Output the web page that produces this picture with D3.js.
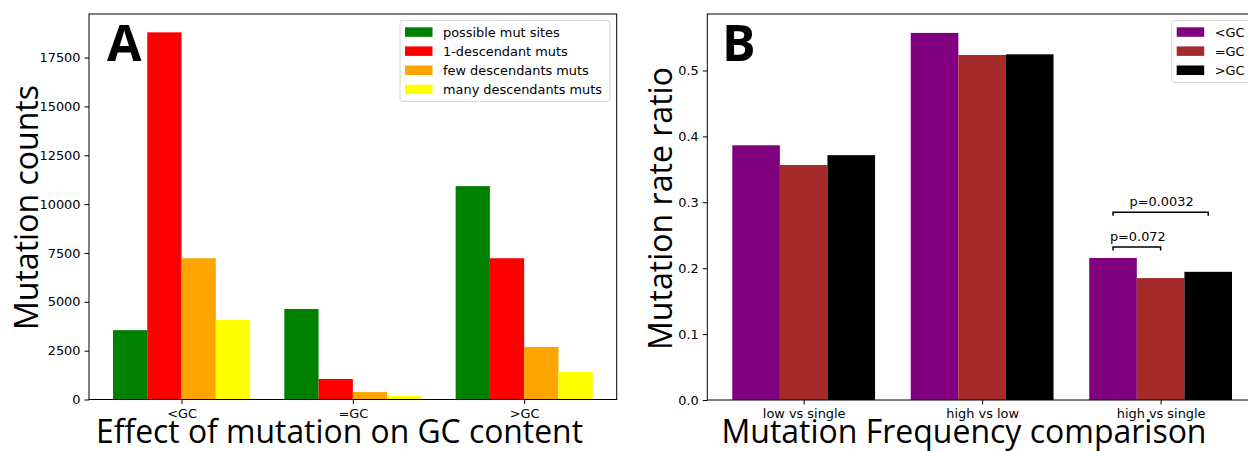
<!DOCTYPE html>
<html>
<head>
<meta charset="utf-8">
<script src="https://cdn.jsdelivr.net/npm/d3@7"></script>
<style>
  body { margin: 0; background: #fff; }
  svg { display: block; }
  .tick text { font-family: "DejaVu Sans", sans-serif; font-size: 12.9px; fill: #000; }
  .tick line, .domain { stroke: #000; }
</style>
</head>
<body>
<svg id="chart"></svg>
<script>
// panel A data
const gcCategories = ["<GC", "=GC", ">GC"];
const mutSeries = ["possible mut sites", "1-descendant muts", "few descendants muts", "many descendants muts"];
const possibleSites = [3550, 4630, 10920];
const oneDescendant = [18790, 1050, 7230];
const fewDescendants = [7230, 385, 2690];
const manyDescendants = [4070, 180, 1410];
const countTicks = [0, 2500, 5000, 7500, 10000, 12500, 15000, 17500];

// panel B data
const freqCategories = ["low vs single", "high vs low", "high vs single"];
const gcSeries = ["<GC", "=GC", ">GC"];
const ratioLess = [0.3865, 0.557, 0.2155];
const ratioEqual = [0.3565, 0.5235, 0.185];
const ratioMore = [0.3715, 0.5245, 0.1945];
const ratioTicks = [0, 0.1, 0.2, 0.3, 0.4, 0.5];

// significance brackets (category 2, from bar i to bar j)
const pLabels = ["p=0.072", "p=0.0032"];
const pFrom = [0, 0];
const pTo = [1, 2];
const pLevel = [0.232, 0.285];

const W = 1248, H = 451;
const svg = d3.select("#chart").attr("width", W).attr("height", H);

function panel(opts) {
  const g = svg.append("g");
  const nSeries = opts.series.length;
  const bw = 0.8 / nSeries;
  const x = d3.scaleLinear().domain([-0.54, 2.54]).range([opts.left, opts.right]);
  const y = d3.scaleLinear().domain([0, opts.ymax]).range([opts.bottom, opts.top]);

  opts.values.forEach((vals, s) => {
    g.append("g")
      .attr("fill", opts.colors[s])
      .selectAll("rect")
      .data(vals)
      .join("rect")
      .attr("x", (d, i) => x(i - 0.4 + s * bw))
      .attr("y", (d) => y(d))
      .attr("width", x(bw) - x(0))
      .attr("height", (d) => y(0) - y(d));
  });

  // frame
  g.append("rect")
    .attr("x", opts.left).attr("y", opts.top)
    .attr("width", opts.right - opts.left).attr("height", opts.bottom - opts.top)
    .attr("fill", "none").attr("stroke", "#000").attr("stroke-width", 1);

  const yAxis = d3.axisLeft(y).tickValues(opts.ticks).tickFormat(opts.fmt)
    .tickSize(4.5).tickPadding(4);
  g.append("g").attr("transform", `translate(${opts.left},0)`).call(yAxis)
    .call((a) => a.select(".domain").remove());

  const xAxis = d3.axisBottom(x).tickValues([0, 1, 2])
    .tickFormat((i) => opts.categories[i]).tickSize(4.5).tickPadding(4.5);
  g.append("g").attr("transform", `translate(0,${opts.bottom})`).call(xAxis)
    .call((a) => a.select(".domain").remove());

  // big axis titles
  g.append("text")
    .attr("x", opts.xlabelX).attr("y", 443)
    .attr("text-anchor", "middle")
    .attr("font-family", "Open Sans, sans-serif").attr("font-size", 33)
    .attr("textLength", opts.xlabelLen).attr("lengthAdjust", "spacingAndGlyphs")
    .text(opts.xlabel);
  g.append("text")
    .attr("transform", `translate(${opts.ylabelX},${opts.ylabelY}) rotate(-90)`)
    .attr("text-anchor", "middle")
    .attr("font-family", "Open Sans, sans-serif").attr("font-size", 33)
    .attr("textLength", opts.ylabelLen).attr("lengthAdjust", "spacingAndGlyphs")
    .text(opts.ylabel);

  // panel letter
  g.append("text")
    .attr("x", opts.letterX).attr("y", 61)
    .attr("font-family", "Open Sans, sans-serif").attr("font-weight", "bold")
    .attr("font-size", 50)
    .text(opts.letter);

  // legend
  const lg = g.append("g");
  lg.append("rect")
    .attr("x", opts.legend.x).attr("y", 20.5)
    .attr("width", opts.legend.w).attr("height", 19 * nSeries + 5)
    .attr("rx", 3)
    .attr("fill", "#fff").attr("fill-opacity", 0.8)
    .attr("stroke", "#d6d6d6").attr("stroke-width", 1);
  opts.series.forEach((name, s) => {
    const cy = 32 + s * 19.1;
    lg.append("rect")
      .attr("x", opts.legend.x + 5).attr("y", cy - 4.7)
      .attr("width", 27.5).attr("height", 9.5)
      .attr("fill", opts.colors[s]);
    lg.append("text")
      .attr("x", opts.legend.x + 43).attr("y", cy + 4.6)
      .attr("font-family", "DejaVu Sans, sans-serif").attr("font-size", 12.9)
      .text(name);
  });

  return { g, x, y, bw };
}

panel({
  left: 89, right: 616.7, top: 14, bottom: 399.5, ymax: 19729,
  categories: gcCategories, series: mutSeries,
  values: [possibleSites, oneDescendant, fewDescendants, manyDescendants],
  colors: ["#008000", "#ff0000", "#ffa500", "#ffff00"],
  ticks: countTicks, fmt: d3.format("d"),
  xlabel: "Effect of mutation on GC content", xlabelX: 339.5, xlabelLen: 487,
  ylabel: "Mutation counts", ylabelX: 38, ylabelY: 207.5, ylabelLen: 245,
  letter: "A", letterX: 107,
  legend: { x: 400, w: 210 },
});

const pb = panel({
  left: 707.3, right: 1257, top: 14, bottom: 400, ymax: 0.5857,
  categories: freqCategories, series: gcSeries,
  values: [ratioLess, ratioEqual, ratioMore],
  colors: ["#800080", "#a52a2a", "#000000"],
  ticks: ratioTicks, fmt: d3.format(".1f"),
  xlabel: "Mutation Frequency comparison", xlabelX: 964, xlabelLen: 485,
  ylabel: "Mutation rate ratio", ylabelX: 672, ylabelY: 208.5, ylabelLen: 283,
  letter: "B", letterX: 722,
  legend: { x: 1171.7, w: 90 },
});

// significance brackets on "high vs single"
pLabels.forEach((lab, k) => {
  const cx = (b) => pb.x(2 - 0.4 + pb.bw * (b + 0.5));
  const x1 = cx(pFrom[k]), x2 = cx(pTo[k]);
  const yb = pb.y(pLevel[k]);
  pb.g.append("path")
    .attr("d", `M${x1},${yb + 3.5}V${yb}H${x2}V${yb + 3.5}`)
    .attr("fill", "none").attr("stroke", "#000").attr("stroke-width", 1.5);
  pb.g.append("text")
    .attr("x", (x1 + x2) / 2 + 1).attr("y", yb - 6.5)
    .attr("text-anchor", "middle")
    .attr("font-family", "DejaVu Sans, sans-serif").attr("font-size", 12.9)
    .text(lab);
});
</script>
</body>
</html>
